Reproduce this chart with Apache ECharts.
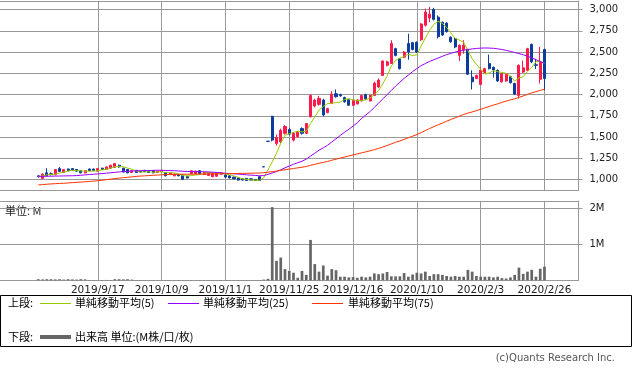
<!DOCTYPE html>
<html><head><meta charset="utf-8">
<script src="https://cdn.jsdelivr.net/npm/echarts@6/dist/echarts.min.js"></script>
<style>html,body{margin:0;padding:0;background:#fff}#c{width:633px;height:371px}</style>
</head><body><div id="c"></div>
<script>
const dates = ['2019/8/27','2019/8/28','2019/8/29','2019/8/30','2019/9/2','2019/9/3','2019/9/4','2019/9/5','2019/9/6','2019/9/9','2019/9/10','2019/9/11','2019/9/12','2019/9/13','2019/9/17','2019/9/18','2019/9/19','2019/9/20','2019/9/24','2019/9/25','2019/9/26','2019/9/27','2019/9/30','2019/10/1','2019/10/2','2019/10/3','2019/10/4','2019/10/7','2019/10/8','2019/10/9','2019/10/10','2019/10/11','2019/10/15','2019/10/16','2019/10/17','2019/10/18','2019/10/21','2019/10/23','2019/10/24','2019/10/25','2019/10/28','2019/10/29','2019/10/30','2019/10/31','2019/11/1','2019/11/5','2019/11/6','2019/11/7','2019/11/8','2019/11/11','2019/11/12','2019/11/13','2019/11/14','2019/11/15','2019/11/18','2019/11/19','2019/11/20','2019/11/21','2019/11/22','2019/11/25','2019/11/26','2019/11/27','2019/11/28','2019/11/29','2019/12/2','2019/12/3','2019/12/4','2019/12/5','2019/12/6','2019/12/9','2019/12/10','2019/12/11','2019/12/12','2019/12/13','2019/12/16','2019/12/17','2019/12/18','2019/12/19','2019/12/20','2019/12/23','2019/12/24','2019/12/25','2019/12/26','2019/12/27','2019/12/30','2020/1/6','2020/1/7','2020/1/8','2020/1/9','2020/1/10','2020/1/14','2020/1/15','2020/1/16','2020/1/17','2020/1/20','2020/1/21','2020/1/22','2020/1/23','2020/1/24','2020/1/27','2020/1/28','2020/1/29','2020/1/30','2020/1/31','2020/2/3','2020/2/4','2020/2/5','2020/2/6','2020/2/7','2020/2/10','2020/2/12','2020/2/13','2020/2/14','2020/2/17','2020/2/18','2020/2/19','2020/2/20','2020/2/21','2020/2/25','2020/2/26'];

// [open, close, low, high]
const ohlc = [
[1045,1035,1025,1050],[1015,1065,1005,1075],[1080,1045,1040,1135],[1070,1060,1050,1085],[1060,1120,1050,1125],
[1130,1095,1090,1150],[1085,1120,1080,1125],[1125,1105,1100,1130],[1130,1110,1105,1135],[1120,1100,1095,1125],
[1105,1080,1075,1110],[1080,1105,1075,1110],[1125,1105,1100,1130],[1125,1110,1105,1130],[1100,1130,1095,1135],
[1135,1120,1115,1140],[1120,1150,1115,1155],[1135,1170,1130,1175],[1145,1190,1140,1195],[1170,1150,1140,1175],
[1135,1090,1085,1140],[1120,1080,1075,1125],[1085,1105,1080,1110],[1110,1085,1080,1115],[1100,1090,1085,1105],
[1110,1095,1090,1115],[1105,1085,1080,1110],[1105,1080,1075,1110],[1085,1100,1080,1105],[1095,1105,1090,1110],
[1085,1045,1040,1090],[1060,1080,1055,1085],[1045,1065,1040,1070],[1060,1045,1040,1065],[1055,1005,1000,1060],
[1040,1020,1015,1045],[1070,1105,1065,1110],[1070,1100,1065,1105],[1105,1070,1065,1110],[1060,1085,1055,1090],
[1050,1075,1045,1080],[1035,1075,1030,1080],[1040,1080,1035,1085],[1065,1080,1060,1085],[1055,1030,1025,1060],
[1045,1020,1015,1050],[1030,1010,1005,1035],[1020,995,990,1025],[1010,995,990,1015],[1015,990,985,1020],
[1010,995,990,1015],[1000,990,985,1005],[1035,990,985,1040],[1152,1150,1150,1152],[1452,1450,1450,1452],
[1745,1465,1450,1750],[1425,1495,1400,1530],[1445,1580,1430,1600],[1545,1625,1530,1640],[1590,1535,1520,1610],
[1465,1545,1450,1560],[1505,1560,1495,1570],[1600,1545,1530,1615],[1545,1660,1535,1665],[1740,1990,1730,2000],
[1865,1935,1850,1950],[1885,1955,1870,1985],[1935,1760,1745,1950],[1790,1835,1780,1845],[1895,2005,1890,2040],
[2010,1975,1965,2060],[2000,1985,1975,2010],[1965,1915,1905,1975],[1940,1875,1870,1950],[1875,1935,1870,1940],
[1890,1935,1885,1945],[1925,1990,1920,1995],[2000,1950,1940,2010],[1925,1990,1920,1995],[1990,2135,1985,2150],
[2090,2170,2080,2190],[2225,2395,2220,2400],[2345,2385,2330,2400],[2365,2600,2360,2640],[2540,2460,2450,2550],
[2420,2305,2295,2430],[2440,2500,2430,2510],[2600,2500,2410,2715],[2610,2530,2520,2620],[2615,2500,2490,2625],
[2645,2830,2630,2840],[2815,2970,2800,3010],[2900,2945,2850,3030],[3000,2885,2870,3020],[2910,2680,2660,2930],
[2850,2700,2690,2860],[2840,2740,2730,2850],[2675,2620,2610,2685],[2655,2560,2545,2665],[2460,2580,2395,2590],
[2525,2580,2480,2640],[2530,2240,2230,2540],[2205,2150,2060,2285],[2190,2225,2180,2235],[2120,2285,2110,2320],
[2255,2305,2245,2315],[2365,2305,2295,2470],[2320,2290,2200,2330],[2285,2160,2150,2295],[2150,2245,2140,2255],
[2160,2245,2150,2255],[2210,2140,2130,2220],[2130,2005,1995,2140],[1990,2345,1955,2355],[2265,2315,2255,2400],
[2285,2540,2275,2550],[2590,2385,2370,2600],[2350,2345,2300,2420],[2180,2385,2130,2560],[2530,2190,2050,2540]
];

const ma5 = [1035,1045,1055,1062,1065,1077,1088,1100,1110,1106,1103,1100,1100,1100,1106,1114,1123,1136,1152,1156,
1150,1136,1123,1102,1090,1091,1092,1087,1090,1093,1083,1082,1079,1068,1048,1043,1048,1055,1060,1076,
1087,1081,1077,1079,1068,1057,1044,1027,1010,1002,997,993,992,1023,1115,1209,1310,1428,1523,1540,
1556,1569,1562,1569,1660,1738,1817,1860,1895,1898,1906,1912,1943,1951,1937,1929,1930,1937,1960,2000,
2047,2128,2215,2337,2402,2429,2450,2473,2459,2467,2572,2666,2755,2826,2862,2836,2790,2725,2660,2640,
2616,2516,2422,2355,2296,2241,2254,2282,2269,2261,2249,2216,2159,2196,2210,2269,2318,2386,2394,2369];

const ma25 = [1038,1039,1040,1041,1042,1043,1044,1045,1046,1048,1052,1056,1060,1064,1068,1072,1076,1081,1086,1091,
1095,1098,1101,1103,1105,1107,1108,1109,1111,1110,1108,1107,1105,1102,1099,1096,1096,1096,1094,1093,
1091,1088,1084,1080,1075,1072,1069,1065,1061,1057,1053,1050,1046,1048,1062,1079,1095,1116,1139,1160,
1181,1199,1217,1241,1277,1311,1347,1374,1404,1443,1481,1520,1557,1592,1630,1668,1720,1760,1800,1850,
1900,1950,2000,2050,2100,2145,2190,2230,2270,2305,2340,2365,2390,2410,2430,2450,2470,2485,2500,2512,
2522,2530,2537,2542,2546,2548,2547,2544,2538,2530,2520,2508,2495,2482,2468,2452,2432,2410,2388,2365];

const ma75 = [938,942,946,950,953,956,958,961,965,968,972,975,979,983,988,994,1000,1006,1012,1018,
1023,1028,1033,1038,1042,1045,1048,1051,1054,1057,1059,1061,1062,1063,1064,1064,1065,1065,1066,1066,
1067,1067,1068,1069,1070,1071,1072,1073,1074,1075,1076,1077,1078,1082,1088,1094,1101,1109,1117,1124,
1131,1139,1146,1155,1168,1181,1193,1203,1214,1228,1241,1254,1266,1278,1290,1302,1315,1327,1339,1353,
1367,1384,1401,1421,1439,1455,1474,1493,1511,1530,1553,1577,1601,1623,1644,1665,1687,1707,1727,1747,
1767,1782,1796,1811,1827,1844,1860,1877,1891,1908,1924,1938,1950,1967,1984,2003,2020,2035,2050,2062];

// volume, millions of shares
const volumeM = [0.03,0.025,0.03,0.03,0.025,0.03,0.02,0.03,0.025,0.02,0.03,0.025,0.008,0.008,0.008,0.008,0.01,0.008,0.03,0.03,
0.025,0.03,0.02,0.008,0.008,0.006,0.006,0.006,0.006,0.006,0.006,0.006,0.006,0.006,0.006,0.006,0.006,0.006,0.006,0.006,
0.006,0.006,0.006,0.006,0.006,0.006,0.006,0.006,0.006,0.006,0.006,0.006,0.008,0.02,0.04,2.03,0.54,0.63,0.31,0.26,
0.21,0.07,0.26,0.15,1.12,0.45,0.24,0.41,0.13,0.31,0.28,0.10,0.10,0.08,0.09,0.07,0.10,0.08,0.10,0.19,
0.17,0.19,0.23,0.11,0.11,0.11,0.20,0.10,0.16,0.21,0.19,0.24,0.12,0.17,0.17,0.15,0.12,0.10,0.12,0.10,
0.10,0.29,0.24,0.12,0.10,0.10,0.10,0.08,0.10,0.06,0.05,0.08,0.15,0.35,0.18,0.24,0.29,0.10,0.32,0.38];

const dateLabels = ['2019/9/17','2019/10/9','2019/11/1','2019/11/25','2019/12/16','2020/1/10','2020/2/3','2020/2/26'];
const priceTicks = [1000,1250,1500,1750,2000,2250,2500,2750,3000];
const volumeTicks = [1000000,2000000];
const maNames = ['単純移動平均(5)','単純移動平均(25)','単純移動平均(75)'];
const volumeName = '出来高 単位:(M株/口/枚)';

const LEAD = 9, TAIL = 8;
const cats = [];
for (let k = 0; k < LEAD; k++) cats.push('_lead' + k);
dates.forEach(d => cats.push(d));
for (let k = 0; k < TAIL; k++) cats.push('_tail' + k);
const pad = (arr, blank) => {
  const out = [];
  for (let k = 0; k < LEAD; k++) out.push(blank);
  arr.forEach(v => out.push(v));
  for (let k = 0; k < TAIL; k++) out.push(blank);
  return out;
};
const labelSet = new Set(dateLabels.map(d => cats.indexOf(d)));
const isLabel = (idx) => labelSet.has(idx);

const GRID = '#999999';
const UP = '#ff1a4b', DOWN = '#0c3c9c';
const numFont = 'DejaVu Sans';
const jpFont = '"Noto Sans CJK JP"';

const chart = echarts.init(document.getElementById('c'), null, {renderer: 'canvas'});
const baseX = (gridIndex, extra) => Object.assign({
  type: 'category', data: cats, gridIndex: gridIndex, boundaryGap: false,
  axisLine: {show: true, lineStyle: {color: GRID, width: 1}},
  axisTick: {show: false}, axisLabel: {show: false},
  splitLine: {show: true, interval: (i) => isLabel(i), lineStyle: {color: GRID, width: 1}}
}, extra || {});

const option = {
  animation: false,
  backgroundColor: '#ffffff',
  grid: [
    {left: 0, right: 54.5, top: 1, height: 189.3},
    {left: 0, right: 54.5, top: 201, height: 79.3}
  ],
  xAxis: [
    baseX(0),
    baseX(0, {position: 'top', splitLine: {show: false}}),
    baseX(1, {axisLabel: {show: true, interval: (i) => isLabel(i), margin: 4,
      fontFamily: numFont, fontSize: 10.5, color: '#222'}}),
    baseX(1, {position: 'top', splitLine: {show: false}})
  ],
  yAxis: [
    {type: 'value', gridIndex: 0, position: 'right', min: 875, max: 3100,
     axisLine: {show: true, lineStyle: {color: GRID}},
     axisTick: {show: true, length: 4, customValues: priceTicks, lineStyle: {color: GRID}},
     axisLabel: {show: true, customValues: priceTicks, margin: 11, fontFamily: numFont, fontSize: 10, color: '#222',
       formatter: (v) => Number(v).toLocaleString('en-US')},
     splitLine: {show: true, customValues: priceTicks, lineStyle: {color: GRID, width: 1}}},
    {type: 'value', gridIndex: 1, position: 'right', min: 0, max: 2200000, interval: 1000000,
     axisLine: {show: true, lineStyle: {color: GRID}},
     axisTick: {show: true, length: 4, customValues: volumeTicks, lineStyle: {color: GRID}},
     axisLabel: {show: true, customValues: volumeTicks, margin: 11, fontFamily: numFont, fontSize: 10, color: '#222',
       formatter: (v) => (v / 1000000) + 'M'},
     splitLine: {show: true, lineStyle: {color: GRID, width: 1}}}
  ],
  series: [
    {type: 'candlestick', xAxisIndex: 0, yAxisIndex: 0, barWidth: 2.6,
     data: pad(ohlc, ['-', '-', '-', '-']),
     itemStyle: {color: UP, color0: DOWN, borderColor: UP, borderColor0: DOWN, borderWidth: 1}, z: 2},
    {type: 'line', name: maNames[0], xAxisIndex: 0, yAxisIndex: 0, data: pad(ma5, '-'), symbol: 'none',
     lineStyle: {color: '#99cc00', width: 1}, z: 3},
    {type: 'line', name: maNames[1], xAxisIndex: 0, yAxisIndex: 0, data: pad(ma25, '-'), symbol: 'none',
     lineStyle: {color: '#9900ff', width: 1}, z: 3},
    {type: 'line', name: maNames[2], xAxisIndex: 0, yAxisIndex: 0, data: pad(ma75, '-'), symbol: 'none',
     lineStyle: {color: '#ff3300', width: 1}, z: 3},
    {type: 'bar', name: volumeName, xAxisIndex: 2, yAxisIndex: 1, barWidth: 2.7,
     data: pad(volumeM.map(v => v * 1000000), '-'), itemStyle: {color: '#666666'}}
  ],
  graphic: [
    {type: 'text', x: 5, y: 211, style: {text: '単位: M', font: '11px ' + jpFont, fill: '#222', verticalAlign: 'middle'}},
    {type: 'rect', shape: {x: 0.5, y: 295.5, width: 631, height: 51}, style: {fill: 'none', stroke: '#000', lineWidth: 1}},
    {type: 'text', x: 8, y: 303, style: {text: '上段:', font: '11px ' + jpFont, fill: '#000', verticalAlign: 'middle'}},
    {type: 'line', shape: {x1: 40, y1: 303.5, x2: 71, y2: 303.5}, style: {stroke: '#99cc00', lineWidth: 1}},
    {type: 'text', x: 75, y: 303, style: {text: maNames[0], font: '11px ' + jpFont, fill: '#000', verticalAlign: 'middle'}},
    {type: 'line', shape: {x1: 168, y1: 303.5, x2: 199, y2: 303.5}, style: {stroke: '#9900ff', lineWidth: 1}},
    {type: 'text', x: 203, y: 303, style: {text: maNames[1], font: '11px ' + jpFont, fill: '#000', verticalAlign: 'middle'}},
    {type: 'line', shape: {x1: 312, y1: 303.5, x2: 343, y2: 303.5}, style: {stroke: '#ff3300', lineWidth: 1}},
    {type: 'text', x: 348, y: 303, style: {text: maNames[2], font: '11px ' + jpFont, fill: '#000', verticalAlign: 'middle'}},
    {type: 'text', x: 8, y: 337, style: {text: '下段:', font: '11px ' + jpFont, fill: '#000', verticalAlign: 'middle'}},
    {type: 'line', shape: {x1: 40, y1: 337, x2: 71, y2: 337}, style: {stroke: '#666666', lineWidth: 4}},
    {type: 'text', x: 75, y: 337, style: {text: volumeName, font: '11px ' + jpFont, fill: '#000', verticalAlign: 'middle'}},
    {type: 'text', x: 615, y: 358, style: {text: '(c)Quants Research Inc.', font: '10px ' + numFont, fill: '#555', align: 'right', verticalAlign: 'middle'}}
  ]
};
chart.setOption(option);
</script></body></html>
